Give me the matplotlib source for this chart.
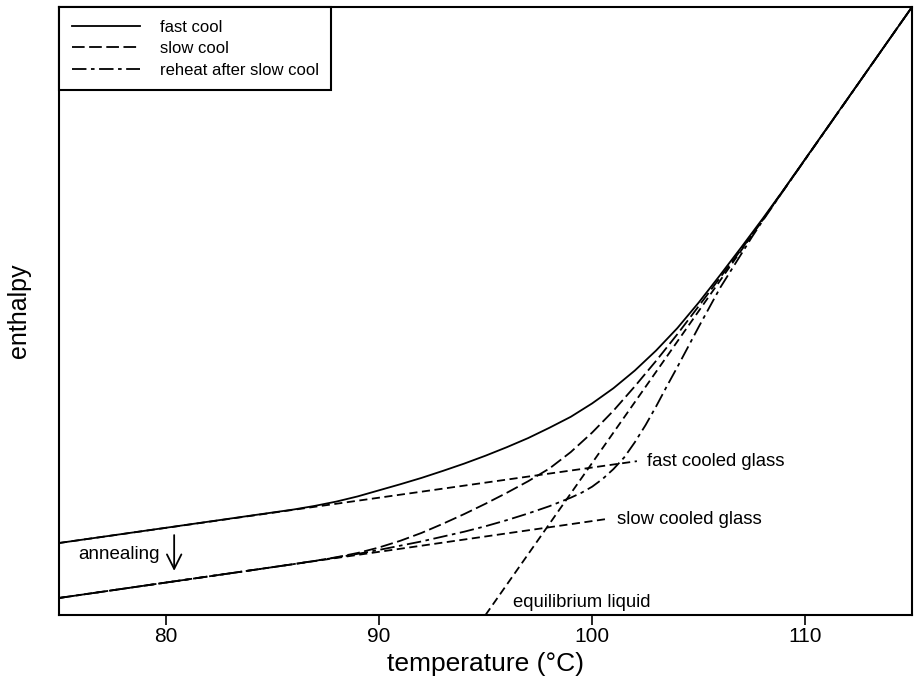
import numpy as np
import matplotlib.pyplot as plt

plt.rcParams['font.family'] = ['Liberation Sans', 'DejaVu Sans']

# enthalpy curves (arbitrary enthalpy units, 0-100)
fast_T = [75, 80, 84, 86, 87, 88, 89, 90, 91, 92, 93, 94, 95, 96, 97, 98, 99,
          100, 101, 102, 103, 104, 105, 106, 107, 108, 109, 115]
fast_H = [11.84, 14.34, 16.35, 17.35, 17.95, 18.65, 19.5, 20.5, 21.5, 22.55,
          23.7, 24.9, 26.2, 27.6, 29.1, 30.8, 32.6, 34.8, 37.3, 40.2, 43.5,
          47.2, 51.4, 55.9, 60.5, 65.2, 70.05, 100]

slow_T = [75, 80, 84, 86, 87, 88, 89, 90, 91, 92, 93, 94, 95, 96, 97, 98, 99,
          100, 101, 102, 103, 104, 105, 106, 107, 108, 115]
slow_H = [2.8, 5.33, 7.35, 8.37, 8.9, 9.5, 10.2, 11.1, 12.2, 13.5, 15.0, 16.6,
          18.3, 20.1, 22.0, 24.1, 26.8, 30.0, 33.6, 37.6, 41.8, 46.2, 50.8,
          55.5, 60.15, 65.0, 100]

reheat_T = [75, 80, 84, 86, 88, 89, 90, 91, 92, 93, 94, 95, 96, 97, 98, 99,
            99.5, 100, 100.5, 101, 101.5, 102, 102.5, 103, 103.5, 104, 105, 106,
            107, 107.5, 108, 109, 115]
reheat_H = [2.8, 5.33, 7.35, 8.37, 9.45, 10.05, 10.7, 11.4, 12.1, 12.9, 13.7,
            14.6, 15.6, 16.7, 17.9, 19.3, 20.1, 21.1, 22.4, 24.0, 25.9, 28.4,
            31.2, 34.3, 37.6, 40.8, 47.4, 53.8, 59.4, 62.2, 64.85, 69.95, 100]

# straight reference lines
liquid_T = [95, 115]
liquid_H = [0, 100]
fastglass_T = [75, 102.1]
fastglass_H = [11.84, 25.3]
slowglass_T = [75, 100.7]
slowglass_H = [2.8, 15.8]

fig = plt.figure(figsize=(9.14, 6.87), dpi=100)
ax = fig.add_axes([59/914, 1-615/687, 853/914, 608/687])

lw = 1.3
ax.plot(fast_T, fast_H, color='black', lw=lw, label='fast cool')
ax.plot(slow_T, slow_H, color='black', lw=lw, linestyle=(0, (7, 2.5)), label='slow cool')
ax.plot(reheat_T, reheat_H, color='black', lw=lw, linestyle=(0, (8, 2.5, 2, 2.5)),
        label='reheat after slow cool')
ax.plot(liquid_T, liquid_H, color='black', lw=lw, linestyle=(0, (4.5, 2.5)))
ax.plot(fastglass_T, fastglass_H, color='black', lw=lw, linestyle=(0, (4.5, 2.5)))
ax.plot(slowglass_T, slowglass_H, color='black', lw=lw, linestyle=(0, (4.5, 2.5)))

# etiquetas sobre las rectas
ax.text(102.55, 25.3, 'fast cooled glass', fontsize=13.3, ha='left', va='center')
ax.text(101.15, 15.7, 'slow cooled glass', fontsize=13.3, ha='left', va='center')
ax.text(96.3, 2.1, 'equilibrium liquid', fontsize=13.3, ha='left', va='center')
ax.text(75.9, 9.9, 'annealing', fontsize=13.5, ha='left', va='center')
ax.annotate('', xy=(80.4, 6.8), xytext=(80.4, 13.6),
            arrowprops=dict(arrowstyle='->', lw=1.3, color='black', mutation_scale=26))

ax.set_xlim(75, 115)
ax.set_ylim(0, 100)
ax.set_xticks([80, 90, 100, 110])
ax.set_yticks([])
ax.tick_params(axis='x', direction='out', length=7, width=1.2, labelsize=15, pad=2)
for s in ax.spines.values():
    s.set_linewidth(1.5)
ax.set_xlabel('temperature (°C)', fontsize=19, labelpad=4)
ax.set_ylabel('enthalpy', fontsize=18, labelpad=20)

leg = ax.legend(loc='upper left', borderaxespad=0, fancybox=False, framealpha=1,
                edgecolor='black', fontsize=12, handlelength=4.1, handletextpad=1.2,
                labelspacing=0.4, borderpad=0.75)
leg.get_frame().set_linewidth(1.5)

fig.savefig('out.png', dpi=100)
